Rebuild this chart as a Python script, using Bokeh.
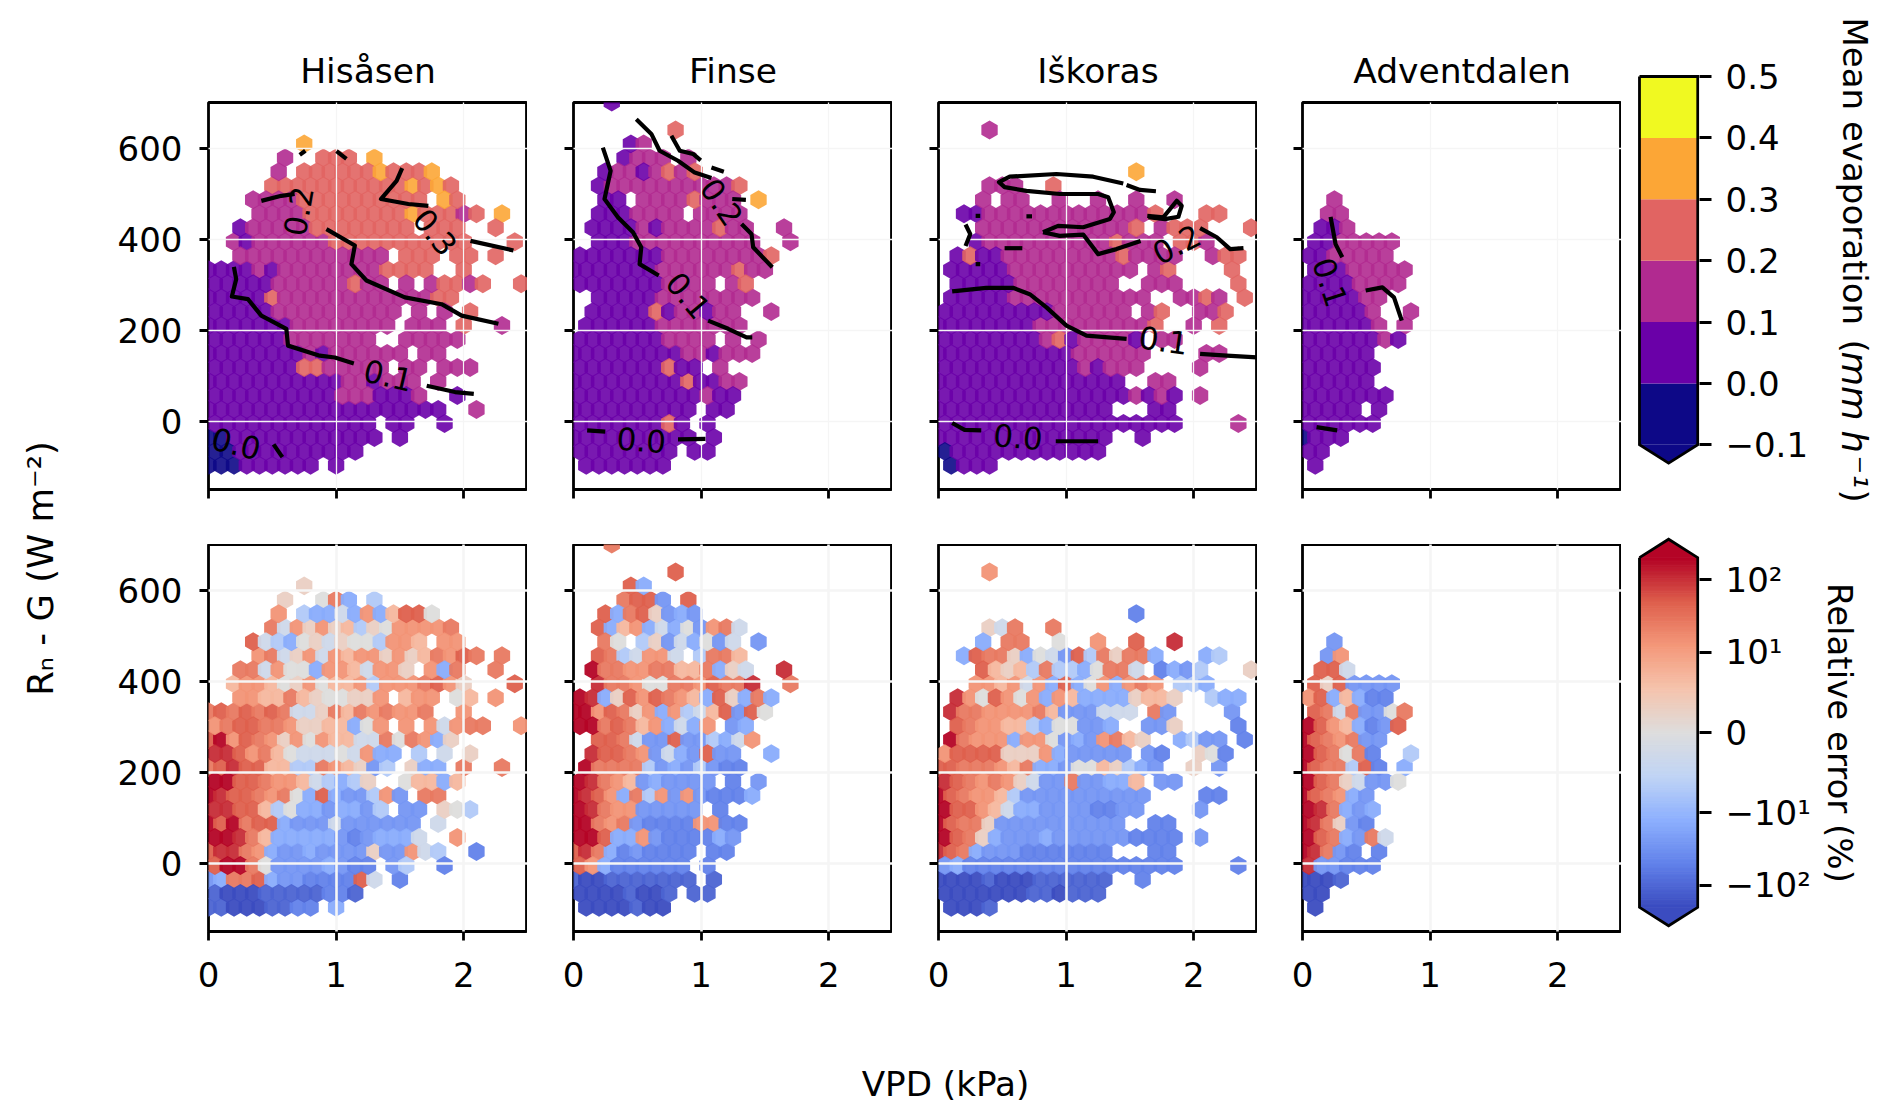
import math
import numpy as np
from bokeh.embed import file_html
from bokeh.resources import INLINE
from bokeh.plotting import figure
from bokeh.layouts import row, column
from bokeh.models import ColumnDataSource, FixedTicker, Label, LinearColorMapper, Range1d
from bokeh.core.properties import value

FONT = "DejaVu Sans"
SITES = ["Hisåsen", "Finse", "Iškoras", "Adventdalen"]
X_TICKS = [0, 1, 2]
Y_TICKS = [0, 200, 400, 600]
EVAP_TICKS = [-0.1, 0.0, 0.1, 0.2, 0.3, 0.4, 0.5]
EVAP_TICK_LABELS = ["−0.1", "0.0", "0.1", "0.2", "0.3", "0.4", "0.5"]
EVAP_COLORS = ["#0d0887", "#6a00a8", "#b12a90", "#e16462", "#fca636", "#f0f921"]
ERR_TICKS = [-100, -10, 0, 10, 100]
ERR_TICK_LABELS = ["−10²", "−10¹", "0", "10¹", "10²"]

# hexagon values: one string per lattice row (rows 30.7 W m-2 apart from -97), one character per 0.1 kPa
EVAP_VALUES = {"0": -0.05, "1": 0.05, "2": 0.15, "3": 0.25, "4": 0.35, "5": 0.45}
ERR_VALUES = {"0": -200, "1": -105, "2": -50, "3": -27, "4": -14, "5": -7, "6": -3, "7": 0,
              "8": 3, "9": 7, "a": 14, "b": 27, "c": 50, "d": 105, "e": 200}

EVAP_HISASEN = [
    "000111111.1", "001111111111", "00111111111111.1", "1111111111111.11..1",
    "1111111111111111111..2", "1111111111 222 111 2 .. 1", "11111111111 22 1 222 . 2",
    "1111111 33 22222 . 22 . 222", "11111111 2 1 222222 . 22", "111111 2222222 .. 22222",
    "1111111 22222222 . 222 . 3 .. 2", "11111 2222222222 . 2 . 2 . 3", "11111 3 222222222222 33",
    "11111 222222 3 22 . 2 . 2 33 2 3 .. 3", "1111 2 1 22222222 3333 .. 3",
    ".. 22222222222 2 . 333 . 33 . 3", ".. 2 1 222222 3333333333 3 ... 3",
    ".. 1 22222 33333333 . 333 .. 3", ".... 2222 33333333 4 333 2 3 . 4",
    "... 2222 3333333333 . 4 3", "..... 33333333333 4 3 4 3", "..... 2 . 333333 4 333 4",
    "...... 2 .. 333 . 4", "....... 4",
]
ERR_HISASEN = [
    "11000 1122. 4", "10001 11112 21", "34bbc 43322 22c6. 2", "ceeb7 33334 322.3 5..2",
    "cddba 43343 33383 3a65. .2", "eedb9 44444 32344 46..a", "ecebc c4333 63333 33.6",
    "ddcc9 57443 4435. 33.87 5", "edccb ab74c 4335a 3.bb", "eeccb aa965 458.. 79949",
    "bcdcc 9955b a9835 .844. b..b", "ddcab 97666 76a44 .5.6. 8", "ceacb a8a7a 9966b 7ba48",
    "abccb ba889 947a. a.a6a bb..a", "bcbcb cb668 b9bab aab.. a", "..aa9 9b987 788a. 9aa.7 9.a",
    "..9aa 978a7 99a5a aabca 8...c", "..bb6 a774a a96aa 8.a4b ..b", "....a b68a6 a9aa8 a89ba cb.b",
    "...c6 54786 8775a a9.aa", "..... b6a8a 89587 aaaab", "..... a.544 64a49 cc7",
    "..... .8..7 b4.5", "..... ..8",
]
EVAP_FINSE = [
    ". 1111111", "11111111 . 11", "1111111111 . 1", "1111111 3 1 . 1", "1111111111 . 11",
    "1111111111 2 11", "111111111 3 11 22", "1111111 3 11 . 2", "111111111 22 1 222",
    "1111111 2222 . 2 . 2", ". 111111 2222222", ". 11111 3 1 22 1 22 .. 2", ".. 11111 2222222 2",
    "1111111 2222 . 2 3", "1111111 222222 3 22", "1111111 22222222 3", ".. 111 2222222222 .. 2",
    ". 1111 2 1 2222 3 22 .. 2", ".. 111 2222 . 2222", ".. 11 . 2222 3 222 . 4",
    ".. 1 2222222222 3", ".. 1 22 1 2 3 2 3", ".... 1 222 . 2", ".... 1 2", "........ 3", "", "... 1",
]
ERR_FINSE = [
    ". 0000 100", "00001 001.1 1", "10011 11111 .1", "ca422 2222. 2", "cdb42 32222 .22",
    "eec44 a3222 243", "eebab 32222 aa22", "edbaa 33333 .2", "edca4 b5a3a 32224",
    "edba9 34333 3.2.3", ".ebbb b5343 5322", ".dccb a3643 c33.. 4", "..ccb 633c3 3546a",
    "eebcb 9a464 a.34", "eeacb 8a4a5 69c3c 7", "ed48c acba9 4c84b 4", "..dbb a77bb acbbd ..b",
    ".ebba abb99 b486. .d", "..cb5 6aa6. 5bb9", "..b7. 58364 736.3", "..c49 a4647 3ab6",
    "..c4b c8343", "....b cc3.c", "....c 4", "..... ...c", "", "...b",
]
EVAP_ISKORAS = [
    ". 0 111", "0 111111111111", "11111111111111 .. 1", "1111111111111111111 .... 2",
    "11111111111111 ... 11", "111111111111111 2 1 2 1 . 2", "111111111111111 .. 22",
    "11111111111 2 1 222 .... 2", "11111111111 222222 .... 22", "11111111 2 3 1 2222 1 . 22",
    "11111111 222222222 3 .. 2 . 3", "111111111 222222 . 2 3 .. 22 3",
    ". 11111 22222222222 .. 22 3 2 . 3", ". 11111 22222222 .. 222 .... 3",
    ". 11111 2222222222 . 2 3 .... 3", ". 1 3 11 222222222 3 2222 .. 2 33",
    "... 1 2222222222 3 222 . 33 2", "... 222222222222 3 . 2 333 ... 3",
    ".. 11 2222222222222 3 ... 33", "... 2 . 22 .. 2 .. 2 .. 2 .. 2", ".... 222 .. 3",
    "............... 4", "", "", ".... 2",
]
ERR_ISKORAS = [
    ". 0001", "00000 00110 111", "00001 00011 1111. .2", "34222 22222 22222 2222. ...2",
    "dcb43 33222 2222. ..22", "ecb84 33343 33333 2222. 3", "ecbb8 33333 33333 ..22",
    "ecca9 64433 33223 3.... 3", "ecbaa 95333 33333 33... .22", "dcbab a8633 b3344 9.33",
    "ccbbb a9b44 37798 543.. 8.3", "acccc 888a4 33333 .32.. 872", ".ebaa a4aa7 343ab 98..4 533.2",
    ".cbaa 99547 7334. .338. ...2", ".dbba aaab9 33366 6.b3. ...3", ".da7c a7a4a 94444 8998. .544",
    "...aa 9a6a4 c47a4 aba.5 54", "...c9 895b5 547bb 6.243 5...8", "..4cb b8476 3c5b8 bb4.. .45",
    "...4. bb..7 ..a.. c..d", "....8 6b..b", "..... ..... ..... 2", "", "", "....a",
]
EVAP_ADVENTDALEN = [
    ".1", "11", "0111", "111111", "11111.1", "1111111", "111111", "111111", "111111",
    "111111 2 1", "111111 2 . 2", "11111 2 .. 2", "11111 22", "1111 2222", ". 111 22222",
    "11 22222", ". 11 22222", ". 11 2", ".. 22", ".. 2",
]
ERR_ADVENTDALEN = [
    ".0", "00", "0001", "d33222", "edb32.2", "ecb43b6", "edb832", "edb434", "ecba43", "ecb86337",
    "ecbb5c2.4", "ecb7b2..5", "ecbab33", "eca9423c", ".cb6b337b", "ac49422", ".c8c3333", ".cc6",
    "..3a", "..3",
]

# contour lines, as (VPD kPa, Rn-G W m-2) pairs; labels as (text, VPD, Rn-G, angle)
CONTOURS_HISASEN = [
    [(.199,339),(.217,312),(.183,274),(.309,268),(.414,232),(.61,203),(.623,166),(.872,144),(.99,140),(1.139,127)],
    [(1.71,78),(1.932,64),(2.079,60)],
    [(.51,-51),(.579,-79)],
    [(.414,484),(.571,495),(.675,499)],
    [(.924,422),(1.147,386),(1.12,345),(1.238,309),(1.539,272),(1.827,257),(1.984,232),(2.272,214)],
    [(1.518,556),(1.474,528),(1.351,488),(1.566,477),(1.723,473)],
    [(2.053,396),(2.39,375)],
    [(.715,585),(.759,594)],
    [(1.003,593),(1.081,576)],
]
LABELS_HISASEN = [("0.0",.217,-50,-14),("0.1",1.408,100,-13),("0.2",.707,461,80),("0.3",1.775,415,-51)]
CONTOURS_FINSE = [
    [(.23,601),(.291,550),(.243,488),(.348,448),(.466,415),(.531,382),(.518,345),(.668,320)],
    [(1.055,221),(1.212,203),(1.356,184),(1.401,184)],
    [(.492,663),(.61,631),(.675,594),(.819,572),(.95,546),(1.081,534)],
    [(1.317,433),(1.395,411),(1.408,382),(1.558,338)],
    [(.767,627),(.833,594),(.937,587),(.997,573)],
    [(1.081,557),(1.178,548)],
    [(1.244,488),(1.351,486)],
    [(.107,-20),(.249,-23)],
    [(.819,-40),(1.034,-39)],
]
LABELS_FINSE = [("0.0",.531,-42,-4),("0.1",.898,276,-50),("0.2",1.16,481,-56)]
CONTOURS_ISKORAS = [
    [(.107,-4),(.204,-19),(.335,-20)],
    [(.919,-44),(1.251,-44)],
    [(.107,285),(.374,293),(.584,293),(.715,279),(.846,250),(1.003,210),(1.16,188),(1.474,181)],
    [(2.05,148),(2.259,144),(2.495,140)],
    [(.819,415),(.937,429),(1.134,426),(1.343,444),(1.374,459),(1.33,492),(1.251,499),(.95,499),(.689,506),(.518,514),(.474,525),(.558,537),(.924,543),(1.212,537),(1.448,522)],
    [(1.474,519),(1.579,508),(1.704,505)],
    [(.819,415),(.95,407),(1.134,410),(1.251,367),(1.395,378),(1.584,396)],
    [(2.05,424),(2.181,404),(2.286,378),(2.39,380)],
    [(1.636,451),(1.762,448),(1.867,484),(1.906,473),(1.88,449),(1.775,444),(1.644,448)],
    [(.212,385),(.249,411),(.212,432)],
    [(.518,380),(.657,380)],
    [(.291,451),(.327,451)],
    [(.689,450),(.733,450)],
    [(.291,345),(.327,345)],
]
LABELS_ISKORAS = [("0.0",.623,-35,-5),("0.1",1.762,177,-8),("0.2",1.867,388,27)]
CONTOURS_ADVENTDALEN = [
    [(.11,-13),(.272,-20)],
    [(.22,449),(.259,389),(.312,360)],
    [(.495,287),(.626,294),(.717,272),(.778,221)],
]
LABELS_ADVENTDALEN = [("0.1",.215,305,-72)]

EVAP_ROWS = [EVAP_HISASEN, EVAP_FINSE, EVAP_ISKORAS, EVAP_ADVENTDALEN]
ERR_ROWS = [ERR_HISASEN, ERR_FINSE, ERR_ISKORAS, ERR_ADVENTDALEN]
CONTOURS = [CONTOURS_HISASEN, CONTOURS_FINSE, CONTOURS_ISKORAS, CONTOURS_ADVENTDALEN]
CONTOUR_LABELS = [LABELS_HISASEN, LABELS_FINSE, LABELS_ISKORAS, LABELS_ADVENTDALEN]

ERR_LIMIT = 200
LINTHRESH = 10.0
LIN_DECADES = 1.105


def symlog(v):
    a = abs(v)
    t = a / LINTHRESH * LIN_DECADES if a <= LINTHRESH else LIN_DECADES + math.log10(a / LINTHRESH)
    return math.copysign(t, v)


T_MAX = symlog(ERR_LIMIT)
COOLWARM_STOPS = [(0, 59, 76, 192), (.125, 98, 130, 234), (.25, 141, 176, 254), (.375, 192, 212, 245),
                  (.5, 221, 221, 221), (.625, 245, 196, 173), (.75, 244, 152, 122), (.875, 222, 96, 77), (1, 180, 4, 38)]
_pos = [s[0] for s in COOLWARM_STOPS]
COOLWARM = ["#%02x%02x%02x" % tuple(int(round(np.interp(i / 255, _pos, [s[c] for s in COOLWARM_STOPS]))) for c in (1, 2, 3))
            for i in range(256)]

evap_mapper = LinearColorMapper(palette=EVAP_COLORS, low=-0.1, high=0.5)
err_mapper = LinearColorMapper(palette=COOLWARM, low=-T_MAX, high=T_MAX)

HEX_HALF_W = 0.064
HEX_HALF_H = 20.8
ROW_STEP = 30.7
ROW_START = -97.0
COL_STEP = 0.1

LEFT_BORDERS = [94, 46, 46, 45]
FRAME_W = 319
FRAME_H = 387
TICK_FONT = "34px"


def hex_source(rows, lookup, transform):
    cells = []
    for r, text in enumerate(rows):
        for k, ch in enumerate(text.replace(" ", "")):
            if ch != ".":
                cells.append((r % 2, k * COL_STEP + (COL_STEP / 2 if r % 2 else 0), ROW_START + r * ROW_STEP, transform(lookup[ch])))
    cells.sort(key=lambda c: c[0])
    xs, ys, vals = [], [], []
    for _, cx, cy, v in cells:
        xs.append([cx + HEX_HALF_W * f for f in (1, 1, 0, -1, -1, 0)])
        ys.append([cy + HEX_HALF_H * f for f in (-.5, .5, 1, .5, -.5, -1)])
        vals.append(v)
    return ColumnDataSource(dict(xs=xs, ys=ys, v=vals))


def style_axes(p, show_x, show_y):
    p.outline_line_color = "black"
    p.outline_line_width = 2.8
    for ax in (p.xaxis[0], p.yaxis[0]):
        ax.axis_line_color = None
        ax.major_tick_line_color = "black"
        ax.major_tick_line_width = 2.8
        ax.major_tick_out = 9
        ax.major_tick_in = 0
        ax.minor_tick_line_color = None
        ax.major_label_text_font = FONT
        ax.major_label_text_color = "black"
        ax.major_label_text_font_size = TICK_FONT
    p.xaxis[0].ticker = FixedTicker(ticks=X_TICKS)
    p.yaxis[0].ticker = FixedTicker(ticks=Y_TICKS)
    p.xaxis[0].major_label_standoff = 21
    p.yaxis[0].major_label_standoff = 17
    if not show_x:
        p.xaxis[0].major_label_overrides = {t: "" for t in X_TICKS}
        p.xaxis[0].major_label_text_font_size = "1px"
        p.xaxis[0].major_label_standoff = 0
    if not show_y:
        p.yaxis[0].major_label_overrides = {t: "" for t in Y_TICKS}
        p.yaxis[0].major_label_text_font_size = "1px"
        p.yaxis[0].major_label_standoff = 0


def panel(idx, top):
    left = LEFT_BORDERS[idx]
    mtop, mbot = (102, 55) if top else (0, 70)
    p = figure(width=left + FRAME_W, height=mtop + FRAME_H + mbot,
               frame_width=FRAME_W, frame_height=FRAME_H,
               x_range=Range1d(0, 2.5), y_range=Range1d(-150, 700),
               output_backend="svg", toolbar_location=None,
               min_border_left=left, min_border_right=0,
               min_border_top=mtop, min_border_bottom=mbot)
    style_axes(p, not top, idx == 0)
    for g, w in ((p.xgrid[0], 1.3 if top else 2.6), (p.ygrid[0], 1.3 if top else 2.6)):
        g.grid_line_color = "#f5f5f5"
        g.grid_line_width = w
        g.level = "annotation"
    if top:
        src = hex_source(EVAP_ROWS[idx], EVAP_VALUES, lambda v: v)
        p.patches("xs", "ys", source=src, fill_color={"field": "v", "transform": evap_mapper},
                  fill_alpha=0.9, line_color=None)
        for line in CONTOURS[idx]:
            p.line([c[0] for c in line], [c[1] for c in line], line_color="black", line_width=4.2,
                   line_join="round", level="overlay")
        labs = CONTOUR_LABELS[idx]
        p.text([l[1] for l in labs], [l[2] for l in labs], text=[l[0] for l in labs],
               angle=[l[3] for l in labs], angle_units="deg", text_font=value(FONT),
               text_font_size="31px", text_align="center", text_baseline="middle",
               text_color="black", level="overlay")
        p.title.text = SITES[idx]
        p.title.align = "center"
        p.title.text_font = FONT
        p.title.text_font_size = "34.5px"
        p.title.text_font_style = "normal"
        p.title.text_color = "black"
        p.title.standoff = 24
    else:
        src = hex_source(ERR_ROWS[idx], ERR_VALUES, symlog)
        p.patches("xs", "ys", source=src, fill_color={"field": "v", "transform": err_mapper},
                  fill_alpha=0.95, line_color=None)
    return p


BAR_FRAME_W = 62
BAR_FRAME_H = 393


def bar_fig(mtop, mbot, ylo, yhi):
    p = figure(width=196, height=mtop + BAR_FRAME_H + mbot, frame_width=BAR_FRAME_W, frame_height=BAR_FRAME_H,
               x_range=Range1d(-0.034, 1.03), y_range=Range1d(ylo, yhi), y_axis_location="right",
               output_backend="svg", toolbar_location=None,
               min_border_left=16, min_border_right=118, min_border_top=mtop, min_border_bottom=mbot)
    p.outline_line_color = None
    p.grid.visible = False
    p.xaxis.visible = False
    ax = p.yaxis[0]
    ax.axis_line_color = None
    ax.major_tick_line_color = "black"
    ax.major_tick_line_width = 2.8
    ax.major_tick_out = 12
    ax.major_tick_in = 0
    ax.minor_tick_line_color = None
    ax.major_label_text_font = FONT
    ax.major_label_text_color = "black"
    ax.major_label_text_font_size = TICK_FONT
    ax.major_label_standoff = 14
    return p


def add_text(p, text, x, y, size, angle, align="center", baseline="middle", style="normal"):
    p.add_layout(Label(x=x, y=y, x_units="data", y_units="data", text=text, angle=angle, angle_units="deg",
                       text_font=FONT, text_font_size=size, text_align=align, text_baseline=baseline,
                       text_font_style=style, text_color="black"))


# evaporation colour bar
EV_SCALE = 613.8
ev_hi = 0.5 + 3 / EV_SCALE
ev_lo = ev_hi - BAR_FRAME_H / EV_SCALE
bar1 = bar_fig(73, 70, ev_lo, ev_hi)
bar1.quad(left=0, right=1, bottom=EVAP_TICKS[:-1], top=EVAP_TICKS[1:],
          fill_color=[EVAP_COLORS[i] for i in range(6)], line_color=None)
ev_tip = -0.13
bar1.patch([0, 1, 0.5], [-0.1, -0.1, ev_tip], fill_color=EVAP_COLORS[0], line_color=None)
bar1.line([0, 0, 0.5, 1, 1, 0], [0.5, -0.1, ev_tip, -0.1, 0.5, 0.5], line_color="black", line_width=2.8, line_join="miter")
bar1.yaxis[0].ticker = FixedTicker(ticks=EVAP_TICKS)
bar1.yaxis[0].major_label_overrides = {t: s for t, s in zip(EVAP_TICKS, EVAP_TICK_LABELS)}

# relative error colour bar
ER_SCALE = 72.67
er_hi = (732 - 536) / ER_SCALE
er_lo = (732 - 929) / ER_SCALE
bar2 = bar_fig(0, 72, er_lo, er_hi)
N_SLICES = 256
edges = np.linspace(-T_MAX, T_MAX, N_SLICES + 1)
bar2_src = ColumnDataSource(dict(b=edges[:-1], t=edges[1:], v=(edges[:-1] + edges[1:]) / 2))
bar2.quad(left=0, right=1, bottom="b", top="t", source=bar2_src,
          fill_color={"field": "v", "transform": err_mapper},
          line_color={"field": "v", "transform": err_mapper}, line_width=1)
er_tip = 2.66
bar2.patch([0, 1, 0.5], [T_MAX, T_MAX, er_tip], fill_color=COOLWARM[-1], line_color=None)
bar2.patch([0, 1, 0.5], [-T_MAX, -T_MAX, -er_tip], fill_color=COOLWARM[0], line_color=None)
bar2.line([0, 0, 0.5, 1, 1, 0.5, 0], [T_MAX, -T_MAX, -er_tip, -T_MAX, T_MAX, er_tip, T_MAX],
          line_color="black", line_width=2.8, line_join="miter")
err_t = [symlog(v) for v in ERR_TICKS]
bar2.yaxis[0].ticker = FixedTicker(ticks=err_t)
bar2.yaxis[0].major_label_overrides = {t: s for t, s in zip(err_t, ERR_TICK_LABELS)}


def strip(x0, x1, y0, y1):
    """A blank figure whose data coordinates are simply page pixels, to carry shared labels."""
    p = figure(width=x1 - x0, height=y1 - y0, frame_width=x1 - x0, frame_height=y1 - y0,
               x_range=Range1d(x0, x1), y_range=Range1d(y1, y0),
               output_backend="svg", toolbar_location=None,
               min_border_left=0, min_border_right=0, min_border_top=0, min_border_bottom=0)
    p.outline_line_color = None
    p.axis.visible = False
    p.grid.visible = False
    return p


PAGE_H = 1110
LEFT_W = 114
PANELS_END = LEFT_W + sum(LEFT_BORDERS) + 4 * FRAME_W
BARS_END = PANELS_END + 196

left_strip = strip(0, LEFT_W, 0, PAGE_H)
add_text(left_strip, "Rₙ - G (W m⁻²)", 40, 568, "35.5px", 90)

bottom_strip = strip(LEFT_W, PANELS_END, 1001, PAGE_H)
add_text(bottom_strip, "VPD (kPa)", 945, 1083, "34.2px", 0)

right_strip = strip(BARS_END, 1892, 0, PAGE_H)
add_text(right_strip, "Mean evaporation", 1854, 17, "34px", -90, "left")
add_text(right_strip, "(", 1854, 339, "34px", -90, "left")
add_text(right_strip, "mm", 1854, 351, "35.5px", -90, "left", style="italic")
add_text(right_strip, "h", 1854, 430, "35.5px", -90, "left", style="italic")
add_text(right_strip, "⁻¹", 1854, 455, "35.5px", -90, "left", style="italic")
add_text(right_strip, ")", 1854, 489, "34px", -90, "left")
add_text(right_strip, "Relative error (%)", 1839, 732.5, "34px", -90, "center")

top_row = row([panel(i, True) for i in range(4)], spacing=0)
bot_row = row([panel(i, False) for i in range(4)], spacing=0)
page = row(left_strip, column(top_row, bot_row, bottom_strip, spacing=0),
           column(bar1, bar2, spacing=0), right_strip, spacing=0)

open("out.html", "w").write(file_html(page, INLINE))
